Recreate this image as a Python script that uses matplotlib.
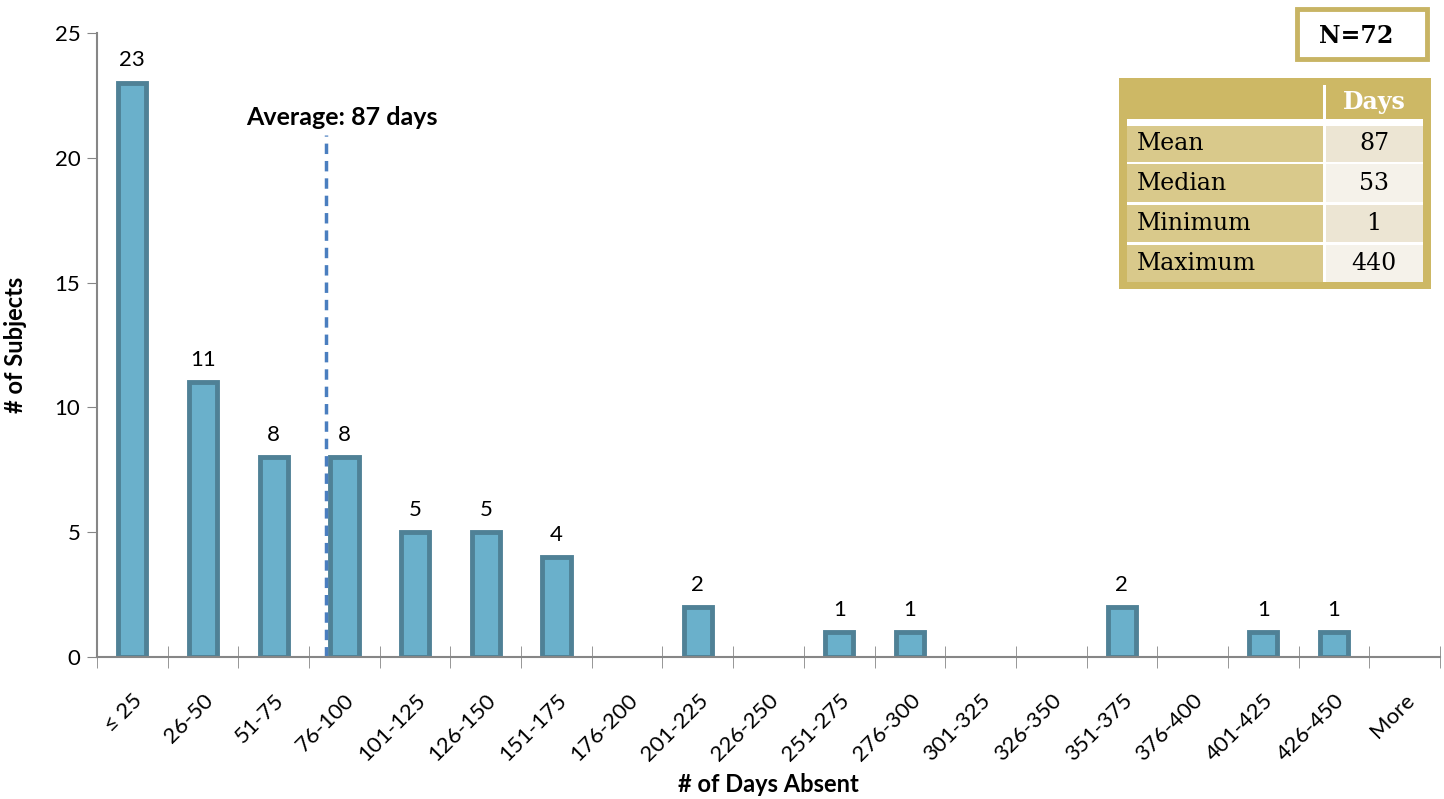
import matplotlib
matplotlib.use("Agg")
import matplotlib.pyplot as plt
from matplotlib.patches import Rectangle
import numpy as np

plt.rcParams['font.family'] = ['Lato', 'DejaVu Sans']

categories = ['≤ 25', '26-50', '51-75', '76-100', '101-125', '126-150', '151-175',
              '176-200', '201-225', '226-250', '251-275', '276-300', '301-325',
              '326-350', '351-375', '376-400', '401-425', '426-450', 'More']
counts = [23, 11, 8, 8, 5, 5, 4, 0, 2, 0, 1, 1, 0, 0, 2, 0, 1, 1, 0]
avg_pos = 2.74
avg_label = 'Average: 87 days'
stat_names = ['Mean', 'Median', 'Minimum', 'Maximum']
stat_values = ['87', '53', '1', '440']
n_label = 'N=72'

fig = plt.figure(figsize=(14.44, 7.99), dpi=100)
W, H = 1444, 799
ax = fig.add_axes([97 / W, (H - 657) / H, (1440 - 97) / W, (657 - 33) / H])

x = np.arange(len(categories))
xs = [xi for xi, c in zip(x, counts) if c > 0]
cs = [c for c in counts if c > 0]
ax.bar(xs, cs, width=0.40, color='#6ab0cb', edgecolor='#4f8196', linewidth=3.5)
for xi, c in zip(xs, cs):
    ax.text(xi, c + 0.5, str(c), ha='center', va='bottom', fontsize=16)

ax.set_xlim(-0.5, len(categories) - 0.5)
ax.set_ylim(0, 25)
ax.set_yticks(range(0, 26, 5))
ax.tick_params(axis='y', direction='out', length=7, color='#868686', labelsize=16, pad=5)
ax.set_xticks(x)
ax.set_xticklabels(categories, rotation=45, ha='right', rotation_mode='anchor', fontsize=16)
ax.tick_params(axis='x', which='major', length=0, pad=24)
ax.set_xticks(np.arange(-0.5, len(categories), 1.0), minor=True)
ax.tick_params(axis='x', which='minor', direction='inout', length=16, color='#868686')
for s in ['top', 'right']:
    ax.spines[s].set_visible(False)
for s in ['left', 'bottom']:
    ax.spines[s].set_color('#868686')
    ax.spines[s].set_linewidth(1.5)

ax.vlines(avg_pos, 0, 20.9, colors='#4a7ebf', linestyles=(0, (3, 2)), linewidth=2.5, zorder=1)
ax.text(2.97, 21.6, avg_label, ha='center', va='center', fontsize=18, fontweight='bold')

ax.set_xlabel('# of Days Absent', fontsize=17, fontweight='bold', labelpad=6)
ax.set_ylabel('# of Subjects', fontsize=17, fontweight='bold', labelpad=20)

# overlay in pixel coordinates for the table and N box
ov = fig.add_axes([0, 0, 1, 1], facecolor='none')
ov.set_xlim(0, W)
ov.set_ylim(H, 0)
ov.axis('off')

serif = 'DejaVu Serif'
ov.add_patch(Rectangle((1297, 9), 130, 50, facecolor='white', edgecolor='#c8b464', linewidth=3.5))
ov.text(1356, 36, n_label, ha='center', va='center', fontsize=17, fontweight='bold', family=serif)

ov.add_patch(Rectangle((1119, 78), 312, 211, facecolor='#cdb865', edgecolor='none'))
ov.add_patch(Rectangle((1127, 119), 296, 163, facecolor='white', edgecolor='none'))
ov.add_patch(Rectangle((1323, 85), 3, 34, facecolor='white', edgecolor='none'))
ov.text(1374, 102, 'Days', ha='center', va='center', fontsize=17, fontweight='bold',
        color='white', family=serif)
row_tops = [126, 164, 205, 245]
row_h = [36, 38, 37, 37]
val_colors = ['#ece5d3', '#f5f2ea', '#ece5d3', '#f5f2ea']
for name, val, top, h, vc in zip(stat_names, stat_values, row_tops, row_h, val_colors):
    ov.add_patch(Rectangle((1127, top), 196, h, facecolor='#d9c98b', edgecolor='none'))
    ov.add_patch(Rectangle((1326, top), 97, h, facecolor=vc, edgecolor='none'))
    ov.text(1137, top + h / 2, name, ha='left', va='center', fontsize=17, family=serif)
    ov.text(1374, top + h / 2, val, ha='center', va='center', fontsize=17, family=serif)

fig.savefig('out.png', dpi=100)
